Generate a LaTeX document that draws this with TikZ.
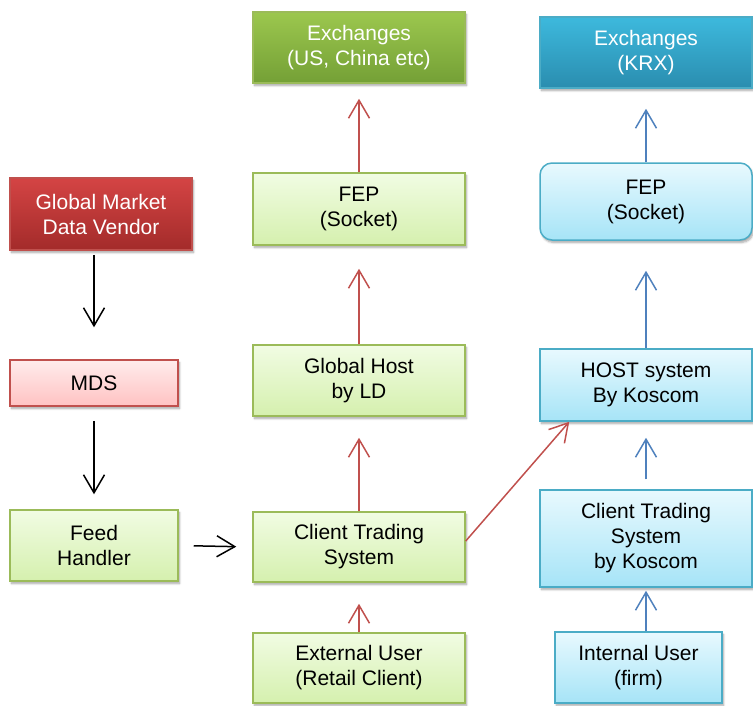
\documentclass[tikz,border=0pt]{standalone}
\usepackage{fontspec}
\setmainfont{Liberation Sans}
\usetikzlibrary{arrows.meta,shadows.blur,calc}
\definecolor{gtop}{HTML}{F1FCE3}
\definecolor{gbot}{HTML}{D5F0AE}
\definecolor{gline}{HTML}{9BBB59}
\definecolor{dgtop}{HTML}{9CC74E}
\definecolor{dgbot}{HTML}{74A036}
\definecolor{rtop}{HTML}{D44444}
\definecolor{rbot}{HTML}{A32B2A}
\definecolor{rline}{HTML}{C0504D}
\definecolor{ptop}{HTML}{FFECEC}
\definecolor{pbot}{HTML}{FFC2C2}
\definecolor{dbtop}{HTML}{3DB9DD}
\definecolor{dbbot}{HTML}{2A8DAF}
\definecolor{bline}{HTML}{4BACC6}
\definecolor{btop}{HTML}{E8F9FE}
\definecolor{bbot}{HTML}{A6E4F7}
\definecolor{redarrow}{HTML}{C0504D}
\definecolor{bluearrow}{HTML}{4F81BD}
\tikzset{
  base/.style={draw, line width=1.5pt, align=center, inner sep=2pt,
    font=\fontsize{21}{25}\selectfont,
    blur shadow={shadow xshift=1.5pt, shadow yshift=-2.5pt, shadow blur steps=6, shadow opacity=35}},
  gbox/.style={base, draw=gline, top color=gtop, bottom color=gbot, text=black},
  dgbox/.style={base, draw=gline, top color=dgtop, bottom color=dgbot, text=white},
  rbox/.style={base, draw=rline, top color=rtop, bottom color=rbot, text=white},
  pbox/.style={base, draw=rline, top color=ptop, bottom color=pbot, text=black},
  dbbox/.style={base, draw=bline, top color=dbtop, bottom color=dbbot, text=white},
  bbox/.style={base, draw=bline, top color=btop, bottom color=bbot, text=black},
  arr/.style={line width=1.5pt, -{Straight Barb[length=18pt, width=21pt, line width=1.5pt]}},
  karr/.style={arr, draw=black},
  rarr/.style={arr, draw=redarrow},
  barr/.style={arr, draw=bluearrow},
}
\begin{document}
\begin{tikzpicture}[x=1pt, y=-1pt]
\useasboundingbox (0,0) rectangle (753,705);
% left column
\node[rbox, minimum width=182, minimum height=72] (gmdv) at (101,214) {Global Market\\Data Vendor};
\node[pbox, minimum width=168, minimum height=46] (mds) at (94,383) {MDS};
\node[gbox, minimum width=168, minimum height=71] (feed) at (94,545.5) {Feed\\Handler};
% middle column
\node[dgbox, minimum width=212, minimum height=71] (exus) at (359,47.5) {Exchanges\\(US, China etc)};
\node[gbox, minimum width=212, minimum height=72] (fep1) at (359,209) {FEP\\(Socket)};
\node[gbox, minimum width=212, minimum height=71] (ghost) at (359,380.5) {Global Host\\by LD};
\node[gbox, minimum width=212, minimum height=70] (cts) at (359,547) {Client Trading\\System};
\node[gbox, minimum width=212, minimum height=70] (ext) at (359,668) {External User\\(Retail Client)};
% right column
\node[dbbox, minimum width=212, minimum height=71] (krx) at (646,52.5) {Exchanges\\(KRX)};
\node[bbox, rounded corners=12pt, minimum width=212, minimum height=77] (fep2) at (646,201.5) {FEP\\(Socket)};
\node[bbox, minimum width=212, minimum height=72] (host) at (646,385) {HOST system\\By Koscom};
\node[bbox, minimum width=212, minimum height=97] (cts2) at (646,538.5) {Client Trading\\System\\by Koscom};
\node[bbox, minimum width=167, minimum height=71] (int) at (638.5,667.5) {Internal User\\(firm)};
% arrows left
\draw[karr, shorten <=4pt, shorten >=32pt] (gmdv.south -| mds.north) -- (mds.north);
\draw[karr, shorten <=14pt, shorten >=15pt] (mds.south) -- (feed.north);
\draw[karr, shorten <=15pt, shorten >=16pt] (feed.east) -- (cts.west);
% arrows middle
\draw[rarr, shorten >=21pt] (ext.north) -- (cts.south);
\draw[rarr, shorten >=21pt] (cts.north) -- (ghost.south);
\draw[rarr, shorten >=23pt] (ghost.north) -- (fep1.south);
\draw[rarr, shorten >=15pt] (fep1.north) -- (exus.south);
\coordinate (hostin) at ($(host.south west)+(30,0)$);
\draw[rarr] ($(cts.east)+(0,-6)$) -- (hostin);
% arrows right
\draw[barr, shorten >=3pt] (int.north -| cts2.south) -- (cts2.south);
\draw[barr, shorten <=10pt, shorten >=16pt] (cts2.north) -- (host.south);
\draw[barr, shorten >=30pt] (host.north) -- (fep2.south);
\draw[barr, shorten >=20pt] (fep2.north) -- (krx.south);
\end{tikzpicture}
\end{document}
